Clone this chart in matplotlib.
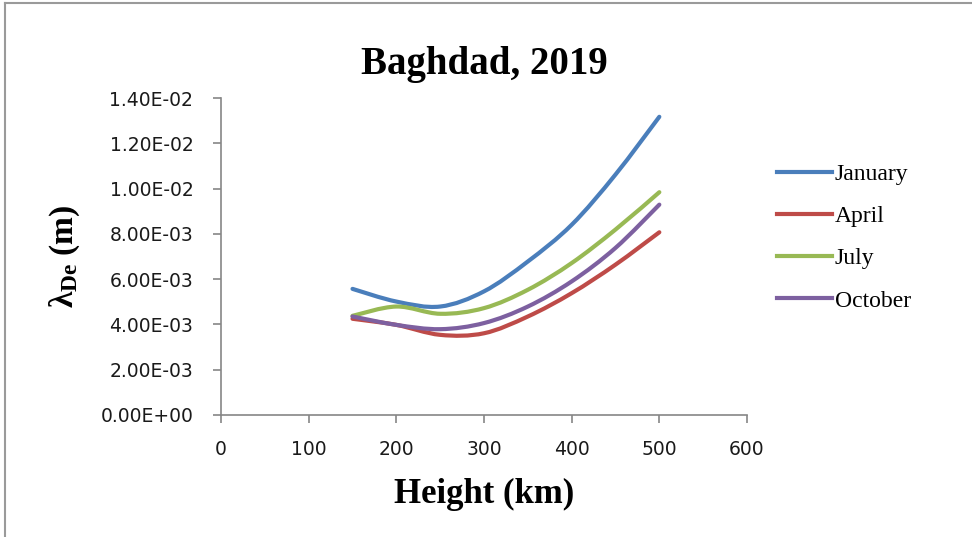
import matplotlib
matplotlib.use("Agg")
import matplotlib.pyplot as plt
from matplotlib.path import Path
from matplotlib.patches import PathPatch
from matplotlib.lines import Line2D
import numpy as np

# Electron Debye length vs height, Baghdad 2019
height_km = [150, 200, 250, 300, 350, 400, 450, 500]
january = [5.57e-3, 5.01e-3, 4.79e-3, 5.46e-3, 6.78e-3, 8.40e-3, 1.062e-2, 1.317e-2]
april = [4.25e-3, 3.98e-3, 3.54e-3, 3.61e-3, 4.35e-3, 5.38e-3, 6.64e-3, 8.07e-3]
july = [4.38e-3, 4.79e-3, 4.47e-3, 4.72e-3, 5.53e-3, 6.71e-3, 8.19e-3, 9.84e-3]
october = [4.35e-3, 3.98e-3, 3.79e-3, 4.06e-3, 4.79e-3, 5.90e-3, 7.38e-3, 9.29e-3]

series_names = ["January", "April", "July", "October"]
series_values = [january, april, july, october]
series_colors = ["#4A7EBB", "#BE4B48", "#98B954", "#7D60A0"]

x_ticks = [0, 100, 200, 300, 400, 500, 600]
y_ticks = [0, 0.002, 0.004, 0.006, 0.008, 0.010, 0.012, 0.014]
y_tick_labels = ["0.00E+00", "2.00E-03", "4.00E-03", "6.00E-03",
                 "8.00E-03", "1.00E-02", "1.20E-02", "1.40E-02"]

plt.rcParams["mathtext.fontset"] = "custom"
plt.rcParams["mathtext.rm"] = "Liberation Serif:bold"
plt.rcParams["mathtext.it"] = "Liberation Serif:bold"
plt.rcParams["mathtext.bf"] = "Liberation Serif:bold"


def smooth_path(xs, ys):
    """Cubic Bezier path through the points (Excel-style smoothed line)."""
    pts = np.column_stack([xs, ys]).astype(float)
    n = len(pts)
    verts = [pts[0]]
    codes = [Path.MOVETO]
    for i in range(n - 1):
        p0 = pts[i - 1] if i > 0 else pts[i]
        p1 = pts[i]
        p2 = pts[i + 1]
        p3 = pts[i + 2] if i + 2 < n else pts[i + 1]
        c1 = p1 + (p2 - p0) / 6.0
        c2 = p2 - (p3 - p1) / 6.0
        verts += [c1, c2, p2]
        codes += [Path.CURVE4] * 3
    return Path(verts, codes)


fig = plt.figure(figsize=(9.72, 5.37), dpi=100)
ax = fig.add_axes([0.2274, 0.2272, 0.5411, 0.5903])

for name, vals, col in zip(series_names, series_values, series_colors):
    patch = PathPatch(smooth_path(height_km, vals), facecolor="none",
                      edgecolor=col, lw=3.0, capstyle="round",
                      joinstyle="round")
    ax.add_patch(patch)

ax.set_xlim(0, 600)
ax.set_ylim(0, 0.014)
ax.set_xticks(x_ticks)
ax.set_xticklabels([str(t) for t in x_ticks])
ax.set_yticks(y_ticks)
ax.set_yticklabels(y_tick_labels)

for side in ("top", "right"):
    ax.spines[side].set_visible(False)
for side in ("left", "bottom"):
    ax.spines[side].set_color("#868686")
    ax.spines[side].set_linewidth(1.2)
ax.tick_params(axis="both", colors="#868686", length=6, width=1.2,
               labelcolor="#1a1a1a", labelsize=13.5)
ax.tick_params(axis="x", pad=12)
ax.tick_params(axis="y", pad=14)
for lbl in ax.get_xticklabels() + ax.get_yticklabels():
    lbl.set_family("DejaVu Sans")

ax.set_title("Baghdad, 2019", fontfamily="Liberation Serif",
             fontweight="bold", fontsize=28, pad=17)
ax.set_xlabel("Height (km)", fontfamily="Liberation Serif",
              fontweight="bold", fontsize=25, labelpad=14)
ax.set_ylabel(r"$\lambda_{\mathregular{De}}$ (m)", fontfamily="Liberation Serif",
              fontweight="bold", fontsize=24, labelpad=13)

handles = [Line2D([], [], color=c, lw=3.0) for c in series_colors]
leg = fig.legend(handles, series_names, loc="upper left",
                 bbox_to_anchor=(0.787, 0.718), frameon=False,
                 prop={"family": "Liberation Serif", "size": 17},
                 handlelength=2.33, handletextpad=0.13, labelspacing=0.88,
                 borderpad=0.0)

# outer frame edges
fig.add_artist(Line2D([5 / 972, 1.0], [1 - 3 / 537, 1 - 3 / 537],
                      transform=fig.transFigure, color="#9a9a9a", lw=1.5))
fig.add_artist(Line2D([5 / 972, 5 / 972], [0, 1 - 3 / 537],
                      transform=fig.transFigure, color="#9a9a9a", lw=1.5))

fig.savefig("out.png", dpi=100)
